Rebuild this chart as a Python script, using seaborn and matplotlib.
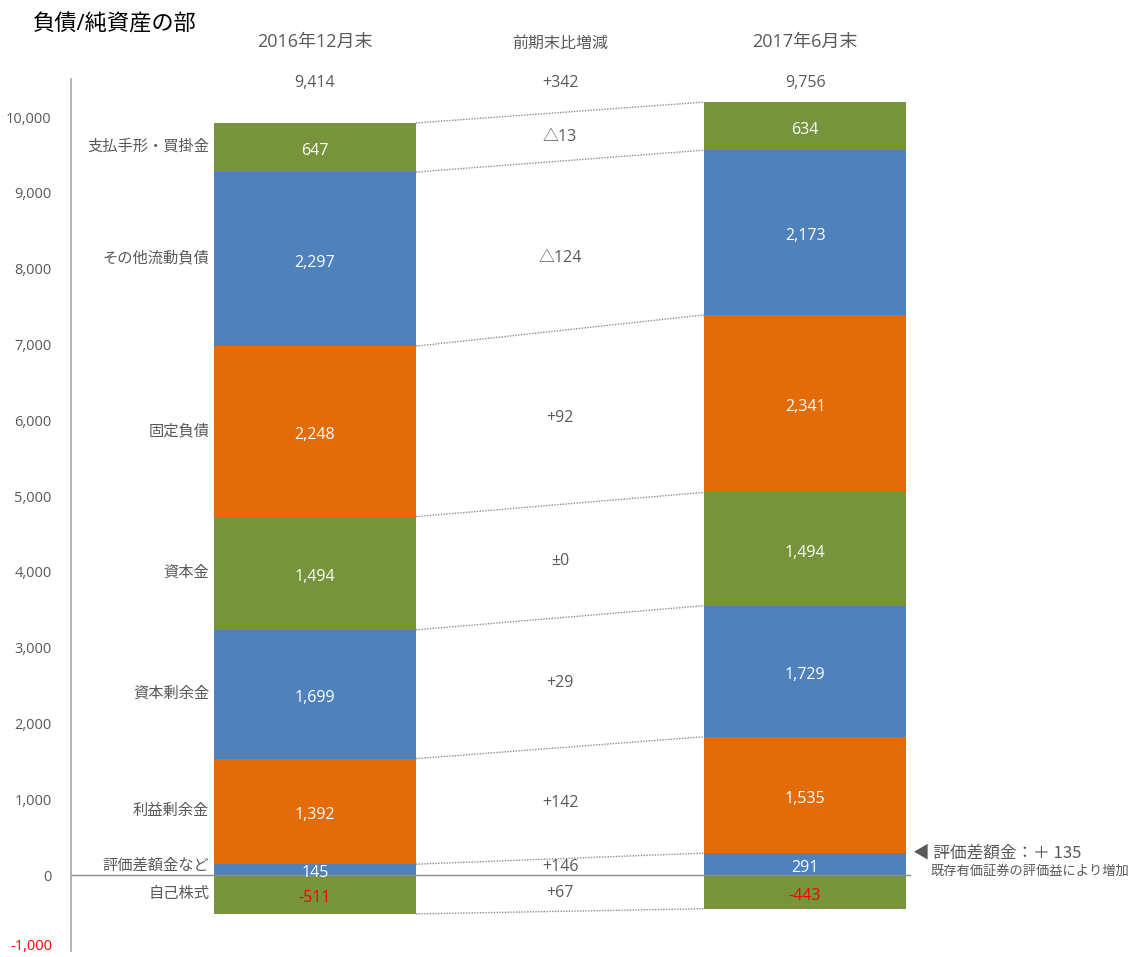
"""
負債/純資産の部：2016年12月末と2017年6月末の積み上げ棒グラフ（前期末比増減つき）
"""

import numpy as np
import matplotlib
matplotlib.use("Agg")
import matplotlib.pyplot as plt
import seaborn as sns

# データ（下から順に積み上げ）
periods = ['2016年12月末', '2017年6月末']
categories = ['自己株式', '評価差額金など', '利益剰余金', '資本剰余金',
              '資本金', '固定負債', 'その他流動負債', '支払手形・買掛金']
v2016 = [-511, 145, 1392, 1699, 1494, 2248, 2297, 647]
v2017 = [-443, 291, 1535, 1729, 1494, 2341, 2173, 634]
totals = ['9,414', '9,756']
diff_total = '+342'
diffs = ['+67', '+146', '+142', '+29', '±0', '+92', '△124', '△13']

GREEN, BLUE, ORANGE = '#77933C', '#4F81BD', '#E36C09'
seg_colors = [GREEN, BLUE, ORANGE, BLUE, GREEN, ORANGE, BLUE, GREEN]
TXT = '#595959'

sns.set_theme(style='white')
plt.rcParams['font.family'] = ['Open Sans', 'Noto Sans CJK JP', 'DejaVu Sans']

fig = plt.figure(figsize=(11.3, 9.57), dpi=100)
ax = fig.add_axes([0.0628, 0.0063, 0.9372, 0.911])

W = 0.412
vals = np.array([v2016, v2017], dtype=float)      # shape (2, 8)
neg = vals[:, 0]
pos = vals[:, 1:]
tops = np.cumsum(pos, axis=1)                      # 各セグメントの上端
bottoms = tops - pos

# 積み上げ：上のセグメントから累積高さで描き、下のもので上書きする
for j in range(pos.shape[1] - 1, -1, -1):
    sns.barplot(x=periods, y=tops[:, j], color=seg_colors[j + 1], width=W,
                linewidth=0, saturation=1, errorbar=None, ax=ax)
# マイナス（自己株式）
sns.barplot(x=periods, y=neg, color=seg_colors[0], width=W,
            linewidth=0, saturation=1, errorbar=None, ax=ax)

ax.set_xlim(-0.498, 1.663)
ax.set_ylim(-1000, 10500)

# 区切り線（点線）
bounds = np.column_stack([neg, tops])              # shape (2, 9)
for k in range(bounds.shape[1]):
    ax.plot([W / 2, 1 - W / 2], [bounds[0, k], bounds[1, k]],
            ls=(0, (1, 1)), color='#8c8c8c', lw=1.0)

# ゼロ線
ax.plot([-0.498, 1.214], [0, 0], color='#8c8c8c', lw=1.0, clip_on=False)

# セグメント内の数値
mids = np.column_stack([neg / 2, bottoms + pos / 2])
for i in range(2):
    for k in range(vals.shape[1]):
        v = vals[i, k]
        ax.text(i, mids[i, k] - 50, f'{int(v):,}', ha='center', va='center',
                color='#FF0000' if v < 0 else 'white', fontsize=11.5,
                fontweight='medium')

# 区分名（左側）
for k, name in enumerate(categories):
    y = mids[0, k] + (50 if k == 1 else 0)
    ax.text(-W / 2 - 0.01, y, name, ha='right', va='center',
            color=TXT, fontsize=11)

# 前期末比増減
diff_shift = {6: -160}
for k, d in enumerate(diffs):
    ax.text(0.5, mids[:, k].mean() + diff_shift.get(k, 0), d,
            ha='center', va='center', color=TXT, fontsize=11.5)

# 見出しと合計
y_head, y_tot = 10989, 10449
for i, p in enumerate(periods):
    ax.text(i, y_head, p, ha='center', va='center', color=TXT, fontsize=13)
    ax.text(i, y_tot, totals[i], ha='center', va='center', color=TXT, fontsize=11.5)
ax.text(0.5, y_head - 30, '前期末比増減', ha='center', va='center', color=TXT, fontsize=11.5)
ax.text(0.5, y_tot, diff_total, ha='center', va='center', color=TXT, fontsize=11.5)

# 注記
ax.text(1.220, 290, '◀ 評価差額金：＋ 135', ha='left', va='center',
        color=TXT, fontsize=12, family=['Noto Sans CJK JP', 'DejaVu Sans'])
ax.text(1.255, 53, '既存有価証券の評価益により増加', ha='left', va='center',
        color=TXT, fontsize=9.5, family=['Noto Sans CJK JP', 'DejaVu Sans'])

fig.text(0.029, 0.974, '負債/純資産の部', ha='left', va='center',
         color='black', fontsize=16)

# 軸
ticks = np.arange(-1000, 10001, 1000)
ax.set_yticks(ticks)
ax.set_yticklabels(['' if t < 0 else f'{t:,}' for t in ticks],
                   color=TXT, fontsize=10.5)
ax.tick_params(axis='y', length=0, pad=14)
# 一番下の目盛ラベル（赤）は画像下端に収まるよう少し上げて描く
ax.text(-0.498 - 19 / 490, ticks[0] + 60, f'{ticks[0]:,}', ha='right', va='center',
        color='#FF0000', fontsize=10.5)
ax.set_xticks([])
ax.set_xlabel('')
ax.set_ylabel('')
for s in ['top', 'right', 'bottom']:
    ax.spines[s].set_visible(False)
ax.spines['left'].set_color('#a6a6a6')
ax.spines['left'].set_linewidth(1.2)
ax.set_facecolor('white')

fig.savefig('out.png', dpi=100, facecolor='white')
